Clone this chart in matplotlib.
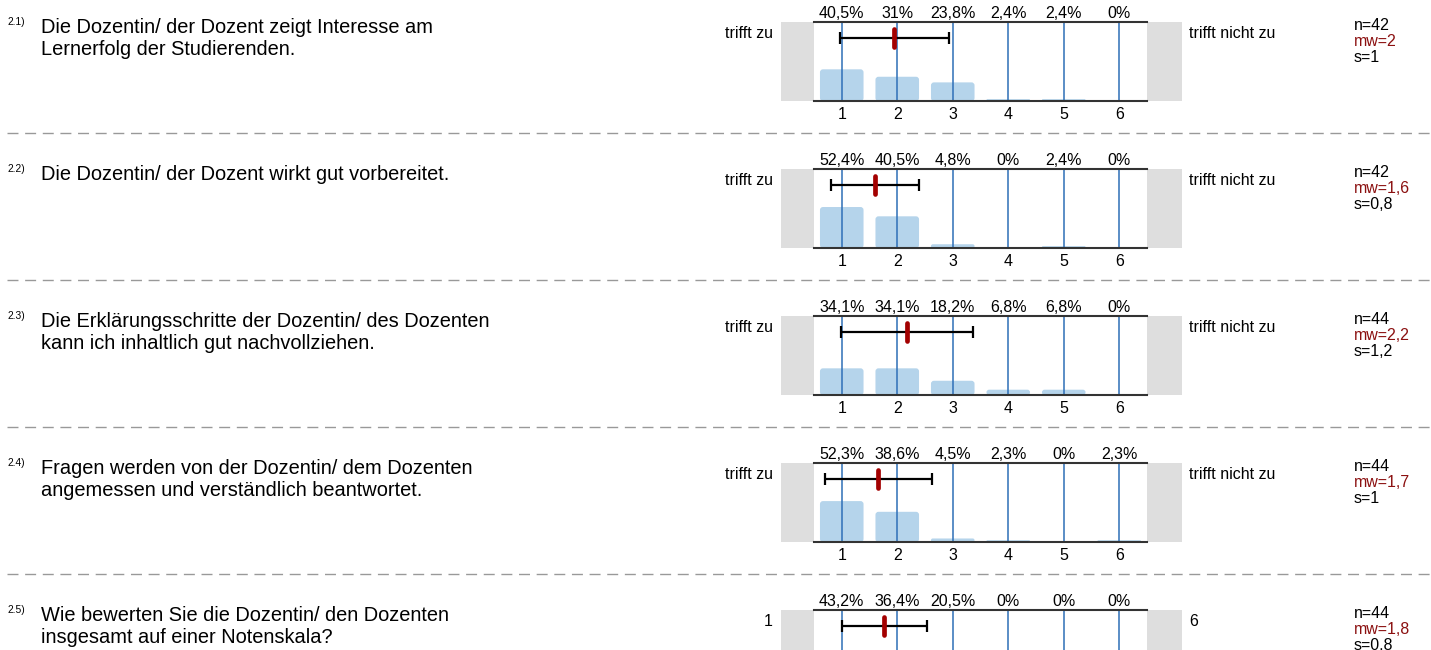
import matplotlib
matplotlib.use("Agg")
import matplotlib.pyplot as plt
from matplotlib.patches import FancyBboxPatch, Rectangle
from matplotlib.lines import Line2D
from matplotlib.transforms import blended_transform_factory

plt.rcParams['font.family'] = ['Liberation Sans', 'DejaVu Sans']

# --- data ---
numbers = ["2.1)", "2.2)", "2.3)", "2.4)", "2.5)"]
questions = [
    "Die Dozentin/ der Dozent zeigt Interesse am\nLernerfolg der Studierenden.",
    "Die Dozentin/ der Dozent wirkt gut vorbereitet.",
    "Die Erklärungsschritte der Dozentin/ des Dozenten\nkann ich inhaltlich gut nachvollziehen.",
    "Fragen werden von der Dozentin/ dem Dozenten\nangemessen und verständlich beantwortet.",
    "Wie bewerten Sie die Dozentin/ den Dozenten\ninsgesamt auf einer Notenskala?",
]
categories = [1, 2, 3, 4, 5, 6]
pct_q1 = [40.5, 31.0, 23.8, 2.4, 2.4, 0.0]
pct_q2 = [52.4, 40.5, 4.8, 0.0, 2.4, 0.0]
pct_q3 = [34.1, 34.1, 18.2, 6.8, 6.8, 0.0]
pct_q4 = [52.3, 38.6, 4.5, 2.3, 0.0, 2.3]
pct_q5 = [43.2, 36.4, 20.5, 0.0, 0.0, 0.0]
percents = [pct_q1, pct_q2, pct_q3, pct_q4, pct_q5]
n_values = [42, 42, 44, 44, 44]
means = [1.95, 1.6, 2.18, 1.66, 1.77]       # exact marker positions
sds = [0.99, 0.8, 1.19, 0.96, 0.77]
mw_labels = ["2", "1,6", "2,2", "1,7", "1,8"]
s_labels = ["1", "0,8", "1,2", "1", "0,8"]
left_labels = ["trifft zu", "trifft zu", "trifft zu", "trifft zu", "1"]
right_labels = ["trifft nicht zu", "trifft nicht zu", "trifft nicht zu", "trifft nicht zu", "6"]

# --- layout (pixels) ---
W, H = 1431, 650
PITCH = 147
TOP0 = 22
AX_L, AX_W, AX_H = 814, 333, 79
YMAX = 101.0
BAR_C = "#b5d4eb"
LINE_C = "#2e6fb7"
RED = "#a30000"
GREY = "#dedede"
FS = 11.5

fig = plt.figure(figsize=(W / 100, H / 100), dpi=100)


def fy(py):
    return 1 - py / H


for k in range(5):
    top = TOP0 + PITCH * k
    ax = fig.add_axes([AX_L / W, 1 - (top + AX_H) / H, AX_W / W, AX_H / H])
    ax.set_xlim(0.5, 6.5)
    ax.set_ylim(0, YMAX)
    ux = AX_W / 6.0          # px per x unit
    uy = AX_H / YMAX         # px per y unit

    # grey side boxes
    ax.add_patch(Rectangle((0.5 - 33 / ux, 0), 33 / ux, YMAX, color=GREY,
                           clip_on=False, lw=0, zorder=0))
    ax.add_patch(Rectangle((6.5, 0), 35 / ux, YMAX, color=GREY,
                           clip_on=False, lw=0, zorder=0))

    # bars with rounded corners
    asp = (1 / uy) / (1 / ux)
    bw = 0.785
    for c, p in zip(categories, percents[k]):
        if p <= 0:
            continue
        r = min(3 / ux, p / asp / 2)
        ax.add_patch(FancyBboxPatch((c - bw / 2, 0), bw, p,
                                    boxstyle="round,pad=0,rounding_size=%f" % r,
                                    mutation_aspect=asp, fc=BAR_C, ec="none",
                                    zorder=1))
    for c in categories:
        ax.axvline(c, color=LINE_C, lw=1.1, zorder=2)

    # mean and standard deviation
    yb = YMAX - 16.3 / uy
    ax.errorbar(means[k], yb, xerr=sds[k], fmt="none", ecolor="black",
                elinewidth=1.6, capsize=4, capthick=1.6, zorder=3)
    dy = 9 / uy
    ax.plot([means[k], means[k]], [yb - dy, yb + dy], color=RED, lw=3.4,
            solid_capstyle="round", zorder=4)

    for side in ("left", "right"):
        ax.spines[side].set_visible(False)
    for side in ("top", "bottom"):
        ax.spines[side].set_color("#333333")
        ax.spines[side].set_linewidth(1.5)
    ax.set_yticks([])
    ax.set_xticks(categories)
    if k < 4:
        ax.set_xticklabels([str(c) for c in categories], fontsize=FS)
    else:
        # scale numbers of the last panel lie below the page edge
        ax.set_xticklabels([])
    ax.tick_params(axis="x", length=0, pad=4)
    ax.patch.set_alpha(0)

    tr = blended_transform_factory(ax.transData, ax.transAxes)
    for c, p in zip(categories, percents[k]):
        lab = ("%g" % p).replace(".", ",") + "%"
        ax.text(c, 1 + 4 / AX_H, lab, transform=tr, ha="center", va="baseline",
                fontsize=FS)

    ax.text((773 - AX_L) / AX_W, 1 - 16 / AX_H, left_labels[k], transform=ax.transAxes,
            ha="right", va="baseline", fontsize=FS)
    ax.text((1189 - AX_L) / AX_W, 1 - 16 / AX_H, right_labels[k], transform=ax.transAxes,
            ha="left", va="baseline", fontsize=FS)

    sx = (1354 - AX_L) / AX_W
    ax.text(sx, 1 - 8 / AX_H, "n=%d" % n_values[k], transform=ax.transAxes,
            va="baseline", fontsize=FS)
    ax.text(sx, 1 - 23.8 / AX_H, "mw=" + mw_labels[k], transform=ax.transAxes,
            va="baseline", fontsize=FS, color="#8b1010")
    ax.text(sx, 1 - 39.6 / AX_H, "s=" + s_labels[k], transform=ax.transAxes,
            va="baseline", fontsize=FS)

    # question text
    fig.text(7 / W, fy(top + 3), numbers[k], fontsize=7.4, va="baseline")
    for i, line in enumerate(questions[k].split("\n")):
        fig.text(41 / W, fy(top + 11 + 22 * i), line, fontsize=14.4, va="baseline")

    if k < 4:
        yl = fy(top + 111)
        fig.add_artist(Line2D([7 / W, 1], [yl, yl], color="#999999", lw=1.0,
                              dashes=(7.9, 4.8)))

fig.savefig("out.png", dpi=100)
